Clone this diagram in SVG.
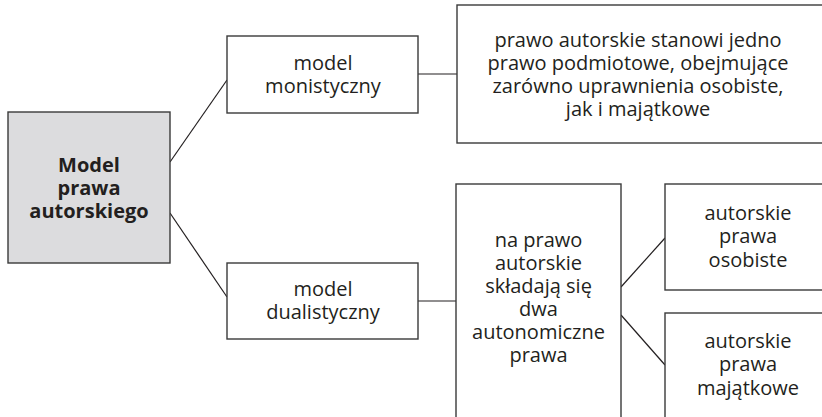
<svg xmlns="http://www.w3.org/2000/svg" width="822" height="417" viewBox="0 0 822 417">
<style>
.box{fill:#fff;stroke:#3a3a3a;stroke-width:1.4}
.root{fill:#dcdcde;stroke:#3a3a3a;stroke-width:1.4}
.t{font-family:"Open Sans","Noto Sans",sans-serif;font-size:20px;fill:#231f20;text-anchor:middle}
.b{font-weight:bold}
.c{stroke:#231f20;stroke-width:1.2;fill:none}
</style>
<rect width="822" height="417" fill="#fff"/>
<g id="connectors">
<line class="c" x1="170" y1="162" x2="227" y2="80"/>
<line class="c" x1="170" y1="213" x2="227" y2="297"/>
<line class="c" x1="418" y1="74" x2="457" y2="74"/>
<line class="c" x1="418" y1="301" x2="456" y2="301"/>
<line class="c" x1="621" y1="287" x2="665" y2="238"/>
<line class="c" x1="621" y1="315" x2="665" y2="365"/>
</g>
<g id="root">
<rect class="root" x="8" y="112" width="162" height="151"/>
<text class="t b" x="89" y="172">Model</text>
<text class="t b" x="89" y="195">prawa</text>
<text class="t b" x="89" y="218">autorskiego</text>
</g>
<g id="monistyczny">
<rect class="box" x="227" y="36" width="191" height="77"/>
<text class="t" x="323" y="70">model</text>
<text class="t" x="323" y="93">monistyczny</text>
</g>
<g id="monistyczny-desc">
<rect class="box" x="457" y="5" width="380" height="138"/>
<text class="t" x="638" y="47">prawo autorskie stanowi jedno</text>
<text class="t" x="638" y="70">prawo podmiotowe, obejmujące</text>
<text class="t" x="638" y="93">zarówno uprawnienia osobiste,</text>
<text class="t" x="638" y="116">jak i majątkowe</text>
</g>
<g id="dualistyczny">
<rect class="box" x="227" y="263" width="191" height="76"/>
<text class="t" x="323" y="296">model</text>
<text class="t" x="323" y="319">dualistyczny</text>
</g>
<g id="dualistyczny-desc">
<rect class="box" x="456" y="184" width="165" height="260"/>
<text class="t" x="538.5" y="247">na prawo</text>
<text class="t" x="538.5" y="270">autorskie</text>
<text class="t" x="538.5" y="293">składają się</text>
<text class="t" x="538.5" y="316">dwa</text>
<text class="t" x="538.5" y="339">autonomiczne</text>
<text class="t" x="538.5" y="362">prawa</text>
</g>
<g id="osobiste">
<rect class="box" x="665" y="184" width="180" height="106"/>
<text class="t" x="748" y="220">autorskie</text>
<text class="t" x="748" y="243">prawa</text>
<text class="t" x="748" y="267">osobiste</text>
</g>
<g id="majatkowe">
<rect class="box" x="665" y="313" width="180" height="130"/>
<text class="t" x="748" y="348">autorskie</text>
<text class="t" x="748" y="371">prawa</text>
<text class="t" x="748" y="395">majątkowe</text>
</g>
</svg>
